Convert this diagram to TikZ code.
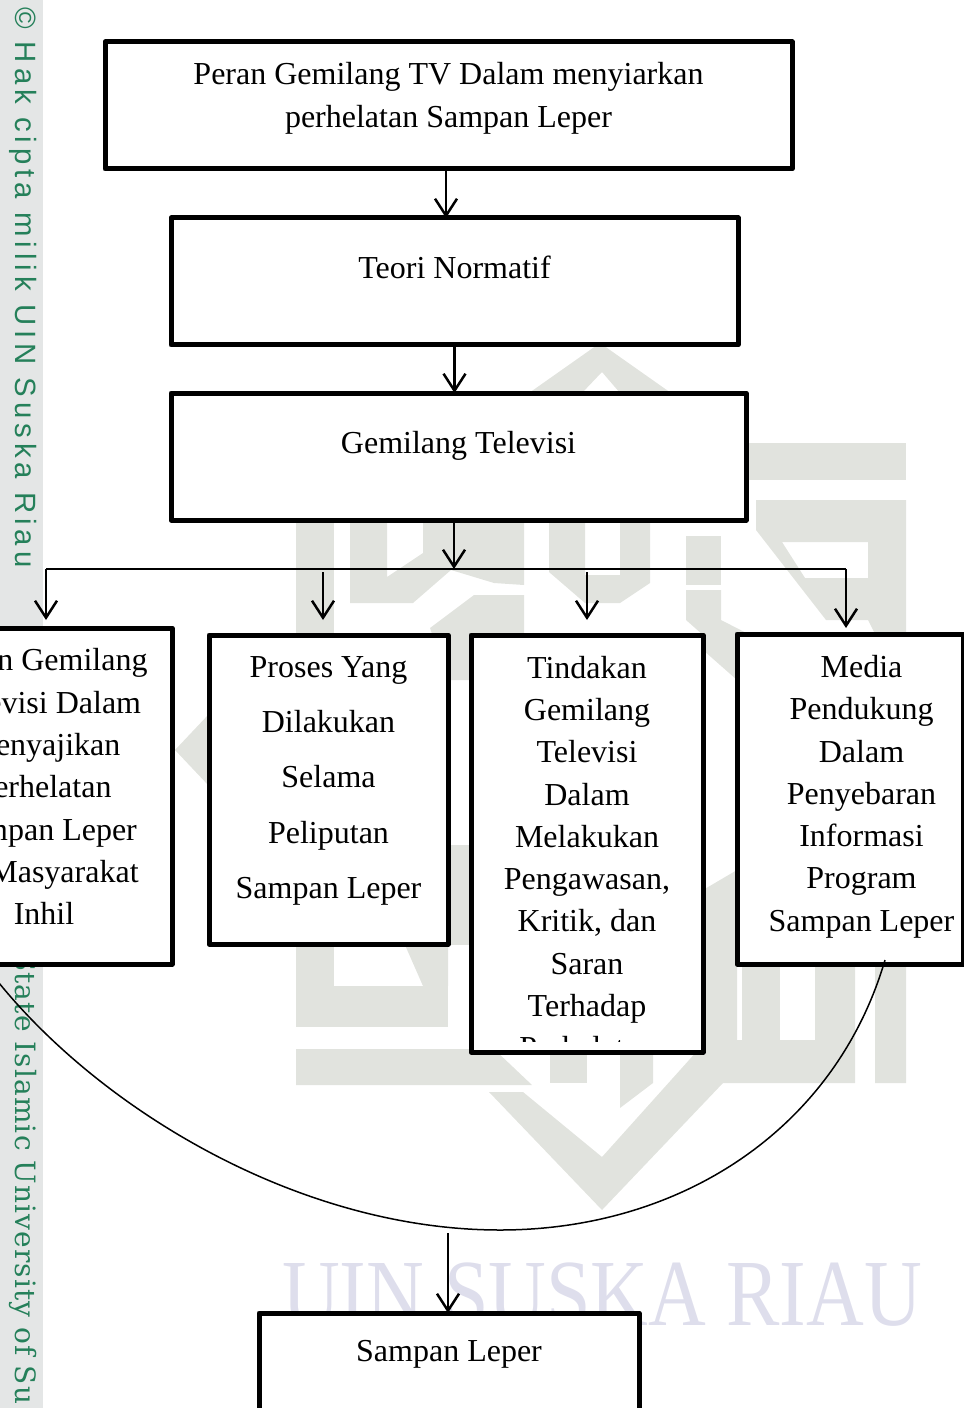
\documentclass[tikz,border=0pt]{standalone}
\usepackage{fontspec}
\setmainfont{Liberation Serif}
\newfontfamily\sidesans[LetterSpace=17]{Liberation Sans}
\newfontfamily\sideserif[LetterSpace=4]{DejaVu Serif}
\usetikzlibrary{positioning,arrows.meta}
\def\px{0.75pt}
\def\geser{\hspace*{17.25pt}}
\definecolor{logogray}{HTML}{E1E3DE}
\definecolor{sidegray}{HTML}{E4E6E6}
\definecolor{sidegreen}{HTML}{25805A}
\definecolor{namelilac}{HTML}{DEDEEC}
\tikzset{
  kotak/.style={draw, fill=white, line width=5*\px, line join=round, outer sep=0pt, inner sep=0pt, align=center, font=\fontsize{24}{31.7}\selectfont},
  panah/.style={line width=2.5*\px, -{Straight Barb[length=17*\px, width=22*\px, line width=2.5*\px]}},
  garis/.style={line width=1.5*\px},
  logo/.style={fill=logogray, draw=none}
}

\begin{document}
\begin{tikzpicture}[x=0.75pt, y=-0.75pt]
\useasboundingbox (0,0) rectangle (963,1408);

% background
\fill[sidegray] (0,0) rectangle (43,1408);
\node[rotate=-90, anchor=base west, text=sidegreen, font=\sidesans\fontsize{22}{22}\selectfont, inner sep=0pt] (hakcipta) at (15,7) {© Hak cipta milik UIN Suska Riau};
\node[rotate=-90, anchor=base west, text=sidegreen, font=\sideserif\fontsize{21}{21}\selectfont, inner sep=0pt] (stateuni) at (15,952) {State Islamic University of Su};

\fill[logo] (600,343) -- (529,393) -- (582,393) -- (602,372) -- (620,393) -- (671,393) -- cycle;
\fill[logo] (747,443) rectangle (906,480);
\fill[logo, even odd rule] (756,500) -- (906,500) -- (906,1083) -- (875,1083) -- (875,634) -- (868,620) -- (826,620) -- (756,530) -- cycle (782,542) -- (868,542) -- (868,578) -- (805,578) -- cycle;
\fill[logo] (296,520) rectangle (334,1027);
\fill[logo] (296,986) rectangle (448,1027);
\fill[logo] (423,986) -- (448,986) -- (448,945) -- (405,945) -- cycle;
\fill[logo] (296,1049) -- (494,1049) -- (532,1085) -- (296,1085) -- cycle;
\fill[logo] (489,1092) -- (602,1210) -- (723,1083) -- (855,1083) -- (855,967) -- (815,967) -- (815,1040) -- (707,1040) -- (602,1157) -- (523,1092) -- cycle;
\fill[logo] (742,967) rectangle (780,1043);
\fill[logo] (550,1052) rectangle (587,1083);
\fill[logo] (620,1052) -- (653,1052) -- (653,1083) -- (620,1108) -- cycle;
\fill[logo] (350,520) -- (387,520) -- (387,577) -- (423,553) -- (423,520) -- (524,520) -- (524,585) -- (494,583) -- (451,570) -- (413,603) -- (350,603) -- cycle;
\fill[logo] (430,628) -- (474,595) -- (524,595) -- (524,650) -- (471,680) -- (448,680) -- cycle;
\fill[logo] (549,520) -- (585,520) -- (585,575) -- (620,575) -- (620,520) -- (650,520) -- (650,583) -- (620,603) -- (585,603) -- (549,572) -- cycle;
\fill[logo] (686,536) rectangle (721,585);
\fill[logo] (686,590) -- (721,590) -- (721,620) -- (760,640) -- (720,650) -- (686,620) -- cycle;
\fill[logo] (175,750) -- (260,660) -- (260,840) -- cycle;
\fill[logo] (448,845) rectangle (471,945);
\fill[logo] (737,870) -- (703,890) -- (703,1045) -- (737,1045) -- cycle;
\fill[logo] (703,636) -- (737,636) -- (737,680) -- (703,650) -- cycle;
\node[text=namelilac, font=\fontsize{71}{71}\selectfont, xscale=0.845, inner sep=0pt, anchor=base] (uinsuska) at (602,1325) {UIN SUSKA RIAU};

% boxes
\node[kotak, minimum width=687*\px, minimum height=127*\px, text depth=16pt] (peran) at (448.5,105.5) {Peran Gemilang TV Dalam menyiarkan\\perhelatan Sampan Leper};
\node[kotak, minimum width=567*\px, minimum height=127*\px, text depth=22pt] (teori) at (454.5,281.5) {Teori Normatif};
\node[kotak, minimum width=575*\px, minimum height=127*\px, text depth=21pt] (gemilang) at (458.5,456.5) {Gemilang Televisi};
\node[kotak, minimum width=256*\px, minimum height=336*\px, text depth=14pt] (penyajian) at (44,796) {Peran Gemilang\\Televisi Dalam\\Menyajikan\\Perhelatan\\Sampan Leper\\Di Masyarakat\\Inhil};
\node[kotak, font=\fontsize{24}{41.5}\selectfont, minimum width=239*\px, minimum height=309*\px, text depth=18pt] (proses) at (328.5,789.5) {Proses Yang\\Dilakukan\\Selama\\Peliputan\\Sampan Leper};
\node[kotak, minimum width=232*\px, minimum height=417*\px, text depth=11pt] (tindakan) at (587,843.5) {Tindakan\\Gemilang\\Televisi\\Dalam\\Melakukan\\Pengawasan,\\Kritik, dan\\Saran\\Terhadap};
\node[kotak, minimum width=226*\px, minimum height=330*\px, text depth=8.5pt] (media) at (850,799) {\geser Media\\\geser Pendukung\\\geser Dalam\\\geser Penyebaran\\\geser Informasi\\\geser Program\\\geser Sampan Leper};
\node[kotak, minimum width=380*\px, minimum height=127*\px, text depth=39pt] (sampan) at (449,1376.5) {Sampan Leper};

% text cut off by the box
\begin{scope}
\clip (480,1030) rectangle (695,1041);
\node[font=\fontsize{24}{31.7}\selectfont, inner sep=0pt] (perhelatan) at (587,1048) {Perhelatan};
\end{scope}

% connectors
\coordinate (cabang) at (454,569);
\coordinate (cabangkiri) at (46,569);
\coordinate (cabangkanan) at (846,569);
\coordinate (lengkungkiri) at (-5,978);
\coordinate (lengkungbawah) at (500,1230);
\coordinate (lengkungkanan) at (885,960);

\draw[panah] (peran.south -| 446,0) -- (teori.north -| 446,0);
\draw[panah] (teori.south) -- (gemilang.north -| teori.south);
\draw[panah] (gemilang.south -| cabang) -- (cabang);
\draw[garis] (cabangkiri) -- (cabangkanan);
\draw[panah, shorten >=8*\px] (cabangkiri) -- (penyajian.north -| cabangkiri);
\draw[panah, shorten >=15*\px] (323,572) -- (proses.north -| 323,0);
\draw[panah, shorten >=15*\px] (587,572) -- (tindakan.north);
\draw[panah, shorten >=6*\px] (cabangkanan) -- (media.north -| cabangkanan);
\draw[garis] (lengkungkiri) .. controls (100,1110) and (300,1230) .. (lengkungbawah) .. controls (680,1230) and (835,1130) .. (lengkungkanan);
\draw[panah] (448,1233) -- (sampan.north -| 448,0);
\end{tikzpicture}
\end{document}
